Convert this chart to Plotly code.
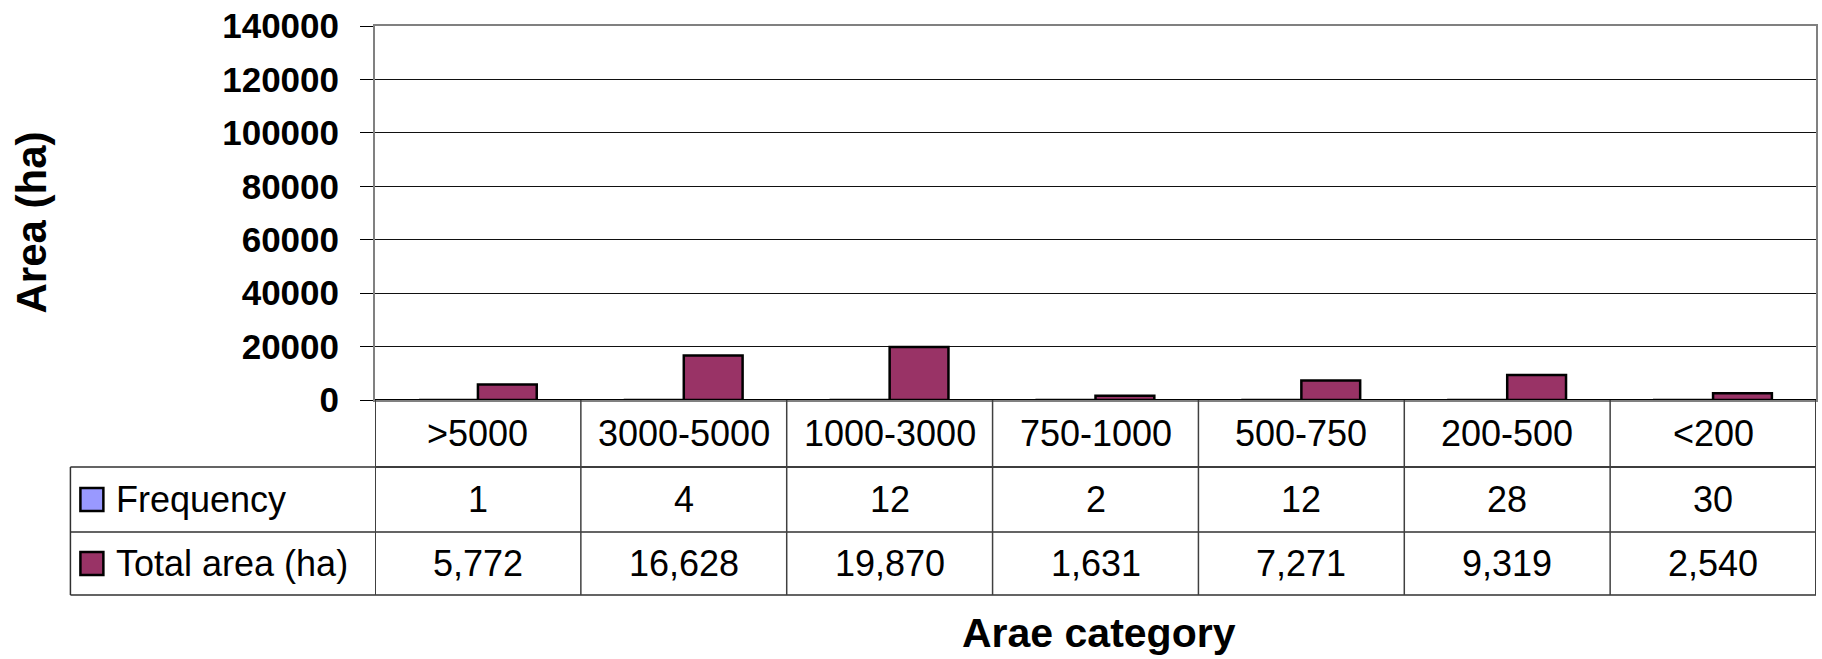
import plotly.graph_objects as go

# Area categories (ha) and their statistics
categories = [">5000", "3000-5000", "1000-3000", "750-1000", "500-750", "200-500", "<200"]
frequency = [1, 4, 12, 2, 12, 28, 30]
total_area = [5772, 16628, 19870, 1631, 7271, 9319, 2540]
y_ticks = [0, 20000, 40000, 60000, 80000, 100000, 120000, 140000]

FREQ_COLOR = "#9999FF"
AREA_COLOR = "#993366"
FONT = "Arial, Liberation Sans, sans-serif"

# Canvas and plot-area geometry (pixels)
W, H = 1822, 659
L, R, T, B = 375, 4, 26, 259
PW, PH = W - L - R, H - T - B
BASE = H - B


def px_x(px):
    return (px - L) / PW


def px_y(py):
    return (BASE - py) / PH


# Data-table row boundaries below the plot
row_lines = [BASE, 467, 532, 595]
legend_left = 70

fig = go.Figure()
fig.add_trace(go.Bar(
    name="Frequency", x=categories, y=frequency,
    marker=dict(color=FREQ_COLOR, line=dict(color="black", width=2.5)),
    showlegend=False,
))
fig.add_trace(go.Bar(
    name="Total area (ha)", x=categories, y=total_area,
    marker=dict(color=AREA_COLOR, line=dict(color="black", width=2.5)),
    showlegend=False,
))

shapes = []
line_style = dict(color="#303030", width=1.5)

# Horizontal table lines
shapes.append(dict(type="line", xref="paper", yref="paper",
                   x0=0, x1=1, y0=px_y(row_lines[1]), y1=px_y(row_lines[1]), line=line_style))
for ry in row_lines[1:]:
    shapes.append(dict(type="line", xref="paper", yref="paper",
                       x0=px_x(legend_left), x1=1, y0=px_y(ry), y1=px_y(ry), line=line_style))
# Vertical column separators at the category boundaries
for i in range(len(categories) + 1):
    shapes.append(dict(type="line", xref="x", yref="paper",
                       x0=i - 0.5, x1=i - 0.5, y0=0, y1=px_y(row_lines[-1]),
                       line=dict(color="#404040", width=1.5 if 0 < i < len(categories) else 2)))
# Left edge of the legend column
shapes.append(dict(type="line", xref="paper", yref="paper",
                   x0=px_x(legend_left), x1=px_x(legend_left),
                   y0=px_y(row_lines[1]), y1=px_y(row_lines[-1]), line=line_style))

annotations = []
row_centers = [(row_lines[k] + row_lines[k + 1]) / 2 for k in range(3)]
table_font = dict(family=FONT, size=36, color="black")

for i, cat in enumerate(categories):
    annotations.append(dict(x=cat, xref="x", y=px_y(row_centers[0]), yref="paper",
                            text=cat, showarrow=False, font=table_font,
                            xanchor="center", yanchor="middle"))
    annotations.append(dict(x=cat, xref="x", y=px_y(row_centers[1]), yref="paper",
                            text=str(frequency[i]), showarrow=False, font=table_font,
                            xanchor="center", yanchor="middle"))
    annotations.append(dict(x=cat, xref="x", y=px_y(row_centers[2]), yref="paper",
                            text=f"{total_area[i]:,}", showarrow=False, font=table_font,
                            xanchor="center", yanchor="middle"))

# Legend keys inside the table
for name, color, cy in [("Frequency", FREQ_COLOR, row_centers[1]),
                        ("Total area (ha)", AREA_COLOR, row_centers[2])]:
    shapes.append(dict(type="rect", xref="paper", yref="paper",
                       x0=px_x(80), x1=px_x(103), y0=px_y(cy + 11.5), y1=px_y(cy - 11.5),
                       fillcolor=color, line=dict(color="black", width=2.5)))
    annotations.append(dict(x=px_x(114), xref="paper", y=px_y(cy), yref="paper",
                            text=name, showarrow=False, font=table_font,
                            xanchor="left", yanchor="middle"))

# Axis titles
annotations.append(dict(x=px_x(31), xref="paper", y=px_y(222), yref="paper",
                        text="Area (ha)", textangle=-90, showarrow=False,
                        font=dict(family=FONT, size=42, color="black", weight="bold"),
                        xanchor="center", yanchor="middle"))
annotations.append(dict(x=px_x(1100), xref="paper", y=px_y(658), yref="paper",
                        text="Arae category", showarrow=False,
                        font=dict(family=FONT, size=41, color="black", weight="bold"),
                        xanchor="center", yanchor="bottom"))

fig.update_layout(
    width=W, height=H,
    margin=dict(l=L, r=R, t=T, b=B, pad=0),
    paper_bgcolor="white", plot_bgcolor="white",
    barmode="group", bargap=1.5 / 3.5, bargroupgap=0,
    shapes=shapes, annotations=annotations,
    xaxis=dict(type="category", range=[-0.5, len(categories) - 0.5],
               showticklabels=False, ticks="", showgrid=False, zeroline=False,
               showline=True, linecolor="#808080", linewidth=2, mirror=True),
    yaxis=dict(range=[0, 140000], tickvals=y_ticks, ticktext=[str(v) for v in y_ticks],
               tickfont=dict(family=FONT, size=35, color="black", weight="bold"),
               ticks="outside", ticklen=13, tickcolor="black", tickwidth=1,
               ticklabelstandoff=14,
               showgrid=True, gridcolor="#111111", gridwidth=1,
               zeroline=True, zerolinecolor="black", zerolinewidth=2,
               showline=True, linecolor="#808080", linewidth=2, mirror=True),
    font=dict(family=FONT, color="black"),
)

fig.write_html("out.html")
